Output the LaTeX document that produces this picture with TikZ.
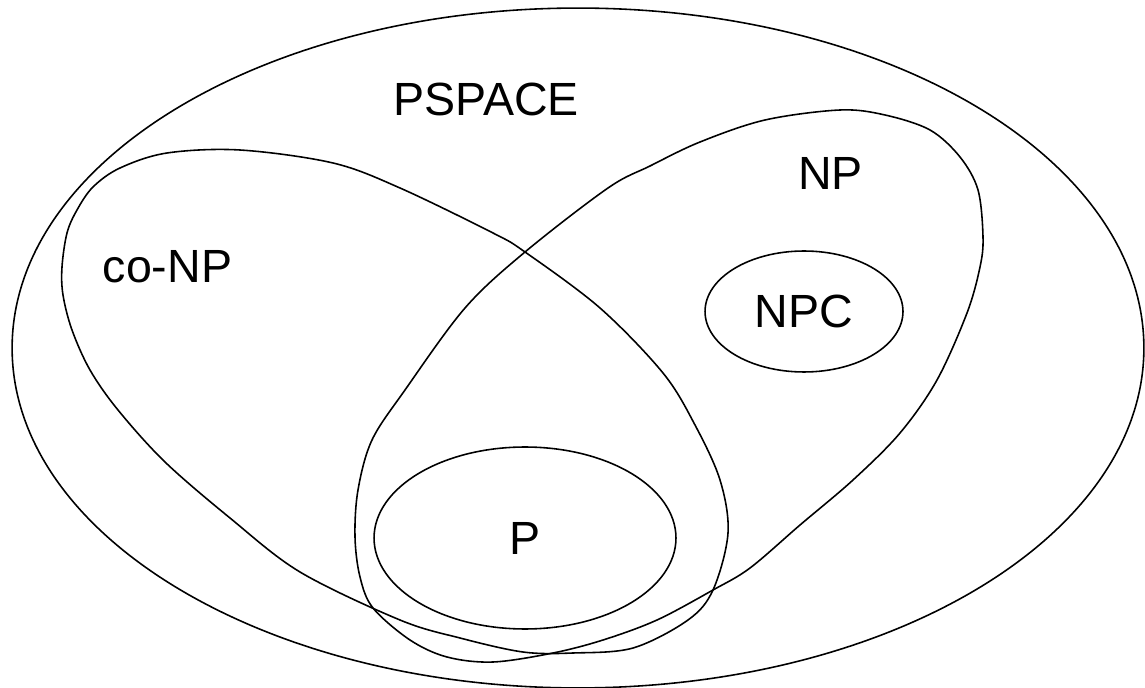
\documentclass[tikz,border=0pt]{standalone}
\usepackage{fontspec}
\setmainfont{Liberation Sans}
\usetikzlibrary{shapes.geometric}

\begin{document}
\begin{tikzpicture}[
  x=0.02cm, y=-0.02cm,
  setline/.style={black, line width=0.9pt},
  lbl/.style={font=\fontsize{26.5}{30}\selectfont, inner sep=0pt, anchor=base},
  cls/.style={ellipse, draw, setline, inner sep=0pt,
    font=\fontsize{26.5}{30}\selectfont},
]
\useasboundingbox (0,0) rectangle (1145,688);

% ══════════════════════════════════════════════════════
% PSPACE (outer ellipse)
% ══════════════════════════════════════════════════════
\draw[setline] (578,348) ellipse [x radius=11.32cm, y radius=6.8cm];
\node[lbl] (pspace) at (486,116) {PSPACE};

% ══════════════════════════════════════════════════════
% co-NP (tilted down to the right)
% ══════════════════════════════════════════════════════
\draw[setline] plot[smooth cycle, tension=0.55] coordinates {
  (62,267) (67,233) (77,210) (93,187) (120,168) (167,153) (240,150)
  (333,163) (400,188) (493,233) (525,252) (600,308) (663,373) (695,425)
  (720,480) (728,533) (713,590) (688,620) (633,648) (573,653) (523,652)
  (460,638) (400,620) (300,572) (230,518) (165,462) (118,410) (90,370)
  (72,330) (63,295)};
\node[lbl] (conp) at (167.5,283) {co-NP};

% ══════════════════════════════════════════════════════
% NP (tilted up to the right)
% ══════════════════════════════════════════════════════
\draw[setline] plot[smooth cycle, tension=0.55] coordinates {
  (840,110) (885,115) (930,130) (960,157) (978,190) (983,237) (980,267)
  (967,313) (937,380) (900,433) (853,480) (800,525) (750,568) (713,590)
  (657,620) (603,640) (553,653) (493,662) (447,657) (410,640) (373,608)
  (360,577) (355,537) (358,490) (372,440) (405,390) (465,308) (525,252)
  (608,188) (650,166) (700,142) (765,120)};
\node[lbl] (np) at (830.5,190) {NP};

% ══════════════════════════════════════════════════════
% NPC and P
% ══════════════════════════════════════════════════════
\node[cls, minimum width=3.96cm, minimum height=2.42cm] (npc) at (804,311.5) {NPC};
\node[cls, minimum width=6.04cm, minimum height=3.64cm] (pset) at (525,538) {P};

\end{tikzpicture}
\end{document}
